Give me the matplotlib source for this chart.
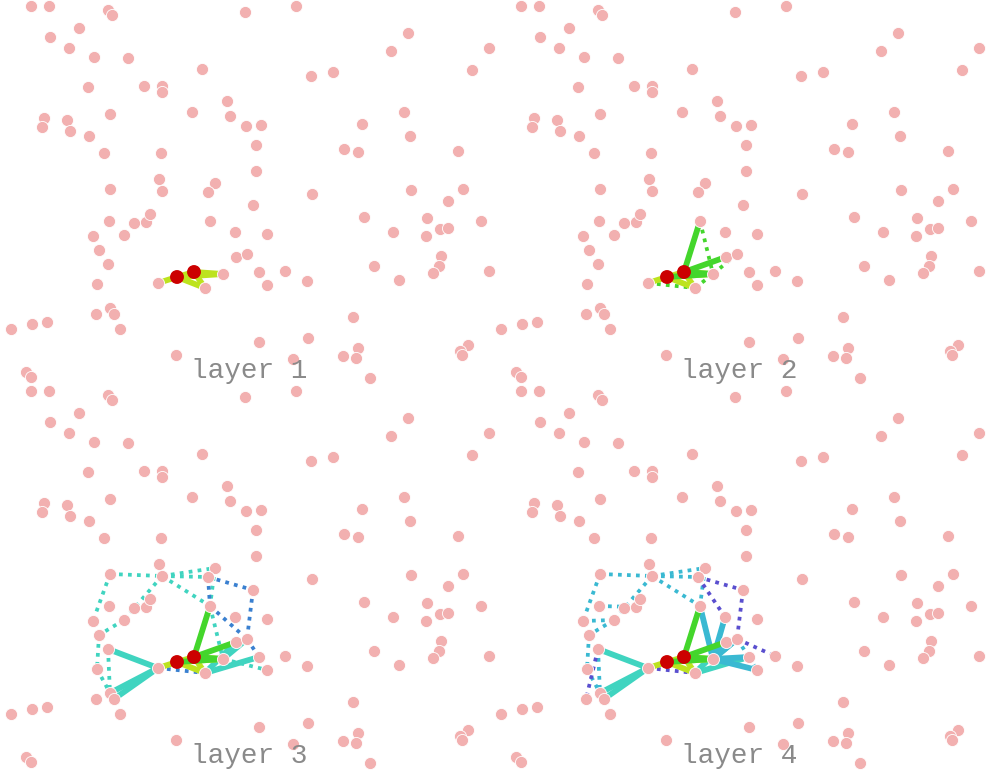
import matplotlib
matplotlib.use("Agg")
import matplotlib.pyplot as plt

# ---- node coordinates (pixel-like data units inside one panel) ----
node_x = [31, 49, 108, 112, 245, 79, 50, 69, 94, 128, 202, 88, 144, 162, 162, 227, 192, 230, 246, 44,
          42, 67, 70, 89, 110, 104, 161, 159, 215, 208, 110, 162, 296, 408, 391, 489, 311, 333, 472, 404,
          261, 362, 256, 410, 344, 358, 458, 256, 312, 411, 463, 109, 134, 146, 150, 210, 93, 124, 235, 99,
          108, 236, 247, 253, 97, 158, 223, 205, 110, 114, 96, 120, 11, 32, 47, 176, 26, 31, 364, 448,
          427, 481, 393, 426, 440, 448, 267, 441, 439, 433, 259, 285, 267, 307, 374, 399, 489, 353, 259, 308,
          293, 343, 358, 356, 370, 468, 460, 462]
node_y = [6, 6, 10, 15, 12, 28, 37, 48, 57, 58, 69, 87, 86, 86, 92, 101, 112, 116, 126, 118,
          127, 120, 131, 136, 114, 153, 153, 179, 183, 192, 189, 191, 6, 33, 51, 48, 76, 72, 70, 112,
          125, 124, 145, 136, 149, 152, 151, 171, 194, 190, 189, 221, 223, 222, 214, 221, 236, 235, 232, 250,
          264, 257, 254, 205, 284, 283, 274, 288, 308, 314, 314, 329, 329, 324, 322, 355, 372, 377, 217, 201,
          218, 221, 232, 236, 229, 228, 234, 256, 266, 273, 272, 271, 285, 281, 266, 280, 271, 317, 342, 338,
          359, 356, 348, 358, 378, 345, 351, 355]

# ---- source (red) nodes ----
src_x = [177, 194]
src_y = [277, 272]
A, B = len(node_x), len(node_x) + 1
all_x = node_x + src_x
all_y = node_y + src_y

# ---- edges per layer (index pairs) ----
edges_l1 = [(A, 65), (A, B), (B, 66), (A, 67), (B, 67), (A, 66)]
edges_l2_solid = [(B, 55), (B, 61), (A, 66), (B, 66)]
edges_l2_dot = [(55, 66), (66, 62), (65, 67), (67, 66)]
edges_l3_solid = [(65, 60), (65, 68), (65, 69), (67, 61), (66, 62), (67, 90)]
edges_l3_dot_a = [(30, 31), (31, 28), (31, 29), (30, 56), (31, 57), (31, 55), (28, 55),
                  (55, 66), (59, 64), (57, 59), (60, 68), (64, 68), (66, 92)]
edges_l3_dot_b = [(29, 63), (63, 62), (55, 62), (65, 67), (29, 55), (62, 90)]
edges_l4_solid = [(66, 55), (66, 58), (66, 62), (66, 61), (66, 90), (66, 92)]
edges_l4_dot_a = [(30, 31), (31, 28), (31, 29), (30, 56), (31, 57), (31, 55), (28, 55),
                  (59, 64), (57, 59), (60, 68), (64, 68), (51, 53), (56, 57), (62, 90), (90, 92)]
edges_l4_dot_b = [(29, 63), (63, 62), (29, 58), (62, 91), (65, 67), (60, 70)]

labels = ["layer 1", "layer 2", "layer 3", "layer 4"]

C_Y = "#bde31e"
C_G = "#44d62c"
C_T = "#40d4c0"
C_TB = "#3ab9d2"
C_BL = "#3a80d0"
C_P = "#5a4fcf"
PINK = "#f2b0b0"
RED = "#cc0000"

fig = plt.figure(figsize=(9.87, 7.70), dpi=100)
W, H = 987.0, 770.0
panels = [(0, 0, 490), (490, 0, 497), (0, 385, 490), (490, 385, 497)]


def draw(ax, edges, color, dotted=False, lw=None, z=1):
    for i, j in edges:
        if dotted:
            ax.plot([all_x[i], all_x[j]], [all_y[i], all_y[j]], color=color,
                    lw=lw or 2.7, linestyle=(0, (1.0, 1.4)), dash_capstyle="butt",
                    zorder=z)
        else:
            ax.plot([all_x[i], all_x[j]], [all_y[i], all_y[j]], color=color,
                    lw=lw or 4.2, solid_capstyle="round", zorder=z)


for k, (px, py, pw) in enumerate(panels):
    ax = fig.add_axes([px / W, 1 - (py + 385) / H, pw / W, 385 / H])
    ax.set_xlim(0, pw)
    ax.set_ylim(385, 0)
    ax.axis("off")

    if k == 1:
        draw(ax, edges_l2_dot, C_G, dotted=True)
    if k == 2:
        draw(ax, edges_l3_dot_a, C_T, dotted=True)
        draw(ax, edges_l3_dot_b, C_BL, dotted=True)
    if k == 3:
        draw(ax, edges_l4_dot_a, C_TB, dotted=True)
        draw(ax, edges_l4_dot_b, C_P, dotted=True)
    if k >= 2:
        draw(ax, edges_l3_solid, C_T, z=2)
    if k == 3:
        draw(ax, edges_l4_solid, C_TB, z=2)
    draw(ax, edges_l1, C_Y, z=3)
    if k >= 1:
        draw(ax, edges_l2_solid, C_G, z=3)

    ax.scatter(node_x, node_y, s=76, color=PINK, edgecolors="white",
               linewidths=0.6, zorder=5, clip_on=False)
    ax.scatter(src_x, src_y, s=100, color=RED, edgecolors="none", zorder=6)
    ax.text(249, 371, labels[k], ha="center", va="center", fontsize=20,
            family=["Liberation Mono", "DejaVu Sans Mono"], color="#8a8a8a", zorder=7)

fig.savefig("out.png", dpi=100)
